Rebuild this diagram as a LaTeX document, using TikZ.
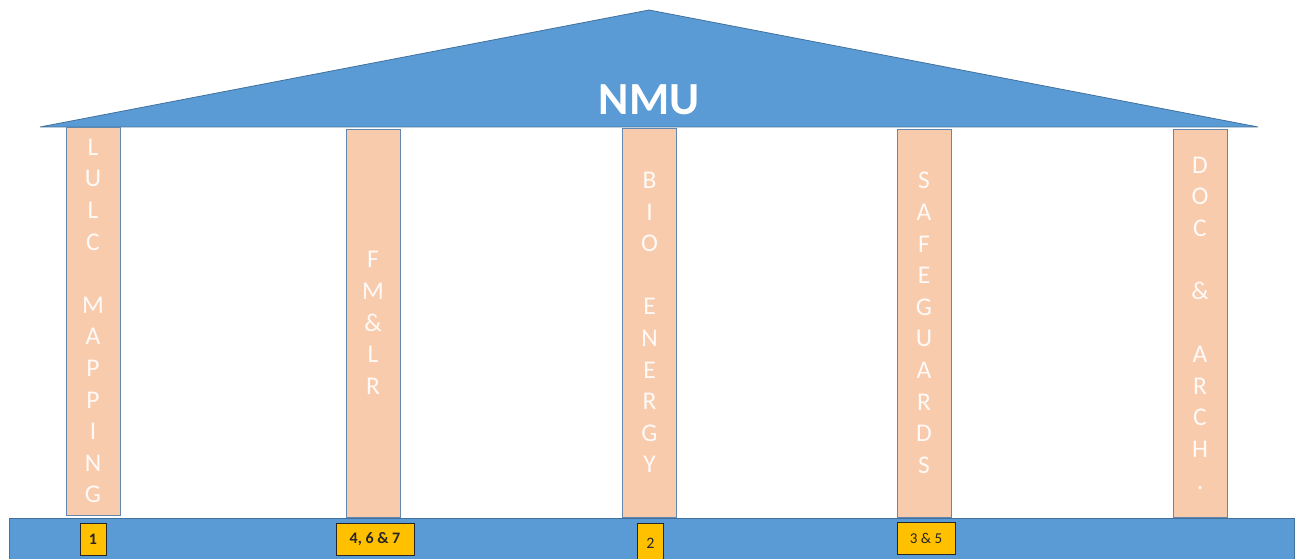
\documentclass[tikz,border=0pt]{standalone}
\usepackage{fontspec}
\setmainfont{Carlito}
\definecolor{roofblue}{RGB}{91,155,213}
\definecolor{roofedge}{RGB}{65,113,156}
\definecolor{peach}{RGB}{248,203,173}
\definecolor{pilledge}{RGB}{100,135,175}
\definecolor{ptext}{RGB}{255,250,247}
\definecolor{gold}{RGB}{255,192,0}
\tikzset{
  pillar/.style={draw=pilledge, line width=0.9pt, fill=peach, inner sep=0pt, minimum width=54pt,
    text=ptext, align=center, font=\fontsize{25.5}{31.6}\selectfont},
  tag/.style={draw=black!85, line width=1pt, fill=gold, inner sep=0pt, minimum height=32pt,
    font=\fontsize{16}{18}\selectfont\bfseries, text=black!85}
}
\begin{document}
\begin{tikzpicture}[x=1pt,y=-1pt]
\useasboundingbox (0,0) rectangle (1296,559);
% base
\path[fill=roofblue, draw=roofedge, line width=0.8pt] (9,518) rectangle (1294,562);
% roof
\path[fill=roofblue, draw=roofedge, line width=0.8pt] (40,127) -- (649,10) -- (1258,127) -- cycle;
\node[font=\fontsize{46}{50}\selectfont\bfseries, text=white] (nmu) at (649,100) {NMU};
% pillars
\node[pillar, minimum height=388pt] (p1) at (93,321) {L\\U\\L\\C\\~\\M\\A\\P\\P\\I\\N\\G};
\node[pillar, minimum height=388pt] (p2) at (373,323) {F\\M\\\&\\L\\R};
\node[pillar, minimum height=389pt] (p3) at (649.5,322.5) {B\\I\\O\\~\\E\\N\\E\\R\\G\\Y};
\node[pillar, minimum height=388pt] (p4) at (924,323) {S\\A\\F\\E\\G\\U\\A\\R\\D\\S};
\node[pillar, minimum height=388pt] (p5) at (1200,323) {D\\O\\C\\~\\\&\\~\\A\\R\\C\\H\\.};
% tags
\node[tag, minimum width=26pt] (t1) at (93,539.5) {1};
\node[tag, minimum width=78pt] (t2) at (375,539.5) {4, 6 \& 7};
\node[tag, minimum width=26pt, font=\fontsize{16}{18}\selectfont, minimum height=40pt] (t3) at (650.5,543) {2};
\node[tag, minimum width=58pt, font=\fontsize{15}{18}\selectfont] (t4) at (926,538) {3 \& 5};
\end{tikzpicture}
\end{document}
